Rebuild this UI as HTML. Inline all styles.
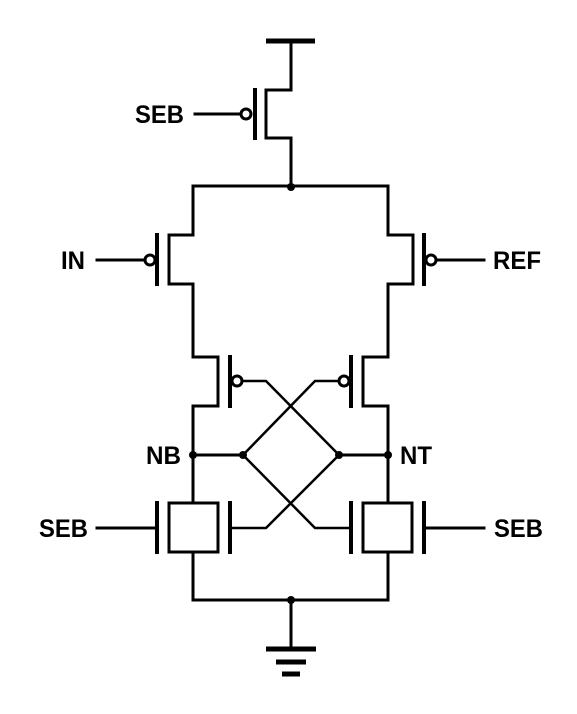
<!DOCTYPE html>
<html><head><meta charset="utf-8"><style>html,body{margin:0;padding:0;background:#fff}svg{display:block}</style></head>
<body>
<svg width="577" height="714" viewBox="0 0 577 714" xmlns="http://www.w3.org/2000/svg">
<g stroke="#000" stroke-width="3" fill="none" stroke-linecap="square">
<!-- top supply -->
<line x1="266" y1="41" x2="315" y2="41" stroke-width="5" stroke-linecap="butt"/>
<polyline points="291,41 291,90 266,90 266,138 291,138 291,186"/>
<line x1="255" y1="90" x2="255" y2="138" stroke-width="4"/>
<circle cx="246" cy="114" r="5"/>
<line x1="195" y1="114" x2="241" y2="114"/>
<!-- rail -->
<line x1="193" y1="186" x2="388" y2="186"/>
<!-- left IN pmos -->
<polyline points="193,186 193,235 169,235 169,284 193,284 193,357 218,357 218,406 193,406 193,503"/>
<line x1="157" y1="235" x2="157" y2="284" stroke-width="4"/>
<circle cx="150" cy="260" r="5"/>
<line x1="97" y1="260" x2="145" y2="260"/>
<!-- right REF pmos -->
<polyline points="388,186 388,235 413,235 413,284 388,284 388,357 363,357 363,406 388,406 388,503"/>
<line x1="424" y1="235" x2="424" y2="284" stroke-width="4"/>
<circle cx="431" cy="260" r="5"/>
<line x1="436" y1="260" x2="484" y2="260"/>
<!-- cross pmos gates -->
<line x1="230" y1="357" x2="230" y2="406" stroke-width="4"/>
<circle cx="237" cy="381" r="5"/>
<polyline points="242,381 266,381 339,455" stroke-width="2.5"/>
<line x1="351" y1="357" x2="351" y2="406" stroke-width="4"/>
<circle cx="344" cy="381" r="5"/>
<polyline points="339,381 315,381 243,455" stroke-width="2.5"/>
<!-- nodes -->
<line x1="193" y1="455" x2="243" y2="455"/>
<line x1="339" y1="455" x2="388" y2="455"/>
<polyline points="243,455 315,528 350,528" stroke-width="2.5"/>
<polyline points="339,455 266,528 230,528" stroke-width="2.5"/>
<!-- nmos left -->
<rect x="169" y="503" width="49" height="49"/>
<line x1="157" y1="503" x2="157" y2="552" stroke-width="4"/>
<line x1="230" y1="503" x2="230" y2="552" stroke-width="4"/>
<line x1="97" y1="528" x2="157" y2="528"/>
<!-- nmos right -->
<rect x="363" y="503" width="49" height="49"/>
<line x1="351" y1="503" x2="351" y2="552" stroke-width="4"/>
<line x1="424" y1="503" x2="424" y2="552" stroke-width="4"/>
<line x1="424" y1="528" x2="484" y2="528"/>
<!-- bottom -->
<polyline points="193,552 193,600 388,600 388,552"/>
<line x1="291" y1="600" x2="291" y2="648"/>
<line x1="266" y1="649" x2="316" y2="649" stroke-width="5" stroke-linecap="butt"/>
<line x1="276" y1="662" x2="306" y2="662" stroke-width="5" stroke-linecap="butt"/>
<line x1="282" y1="674" x2="300" y2="674" stroke-width="5" stroke-linecap="butt"/>
</g>
<g fill="#000">
<circle cx="291" cy="187" r="4"/>
<circle cx="193" cy="455" r="4"/>
<circle cx="243" cy="455" r="4"/>
<circle cx="339" cy="455" r="4"/>
<circle cx="388" cy="455" r="4"/>
<circle cx="291" cy="600" r="4"/>
</g>
<g font-family="Liberation Sans, sans-serif" font-size="25" font-weight="bold" fill="#000">
<text x="135" y="123" textLength="49" lengthAdjust="spacingAndGlyphs">SEB</text>
<text x="61" y="269" textLength="24" lengthAdjust="spacingAndGlyphs">IN</text>
<text x="493" y="269" textLength="48" lengthAdjust="spacingAndGlyphs">REF</text>
<text x="146" y="464" textLength="35" lengthAdjust="spacingAndGlyphs">NB</text>
<text x="400" y="464" textLength="32" lengthAdjust="spacingAndGlyphs">NT</text>
<text x="39" y="537" textLength="49" lengthAdjust="spacingAndGlyphs">SEB</text>
<text x="494" y="537" textLength="49" lengthAdjust="spacingAndGlyphs">SEB</text>
</g>
</svg>
</body></html>
